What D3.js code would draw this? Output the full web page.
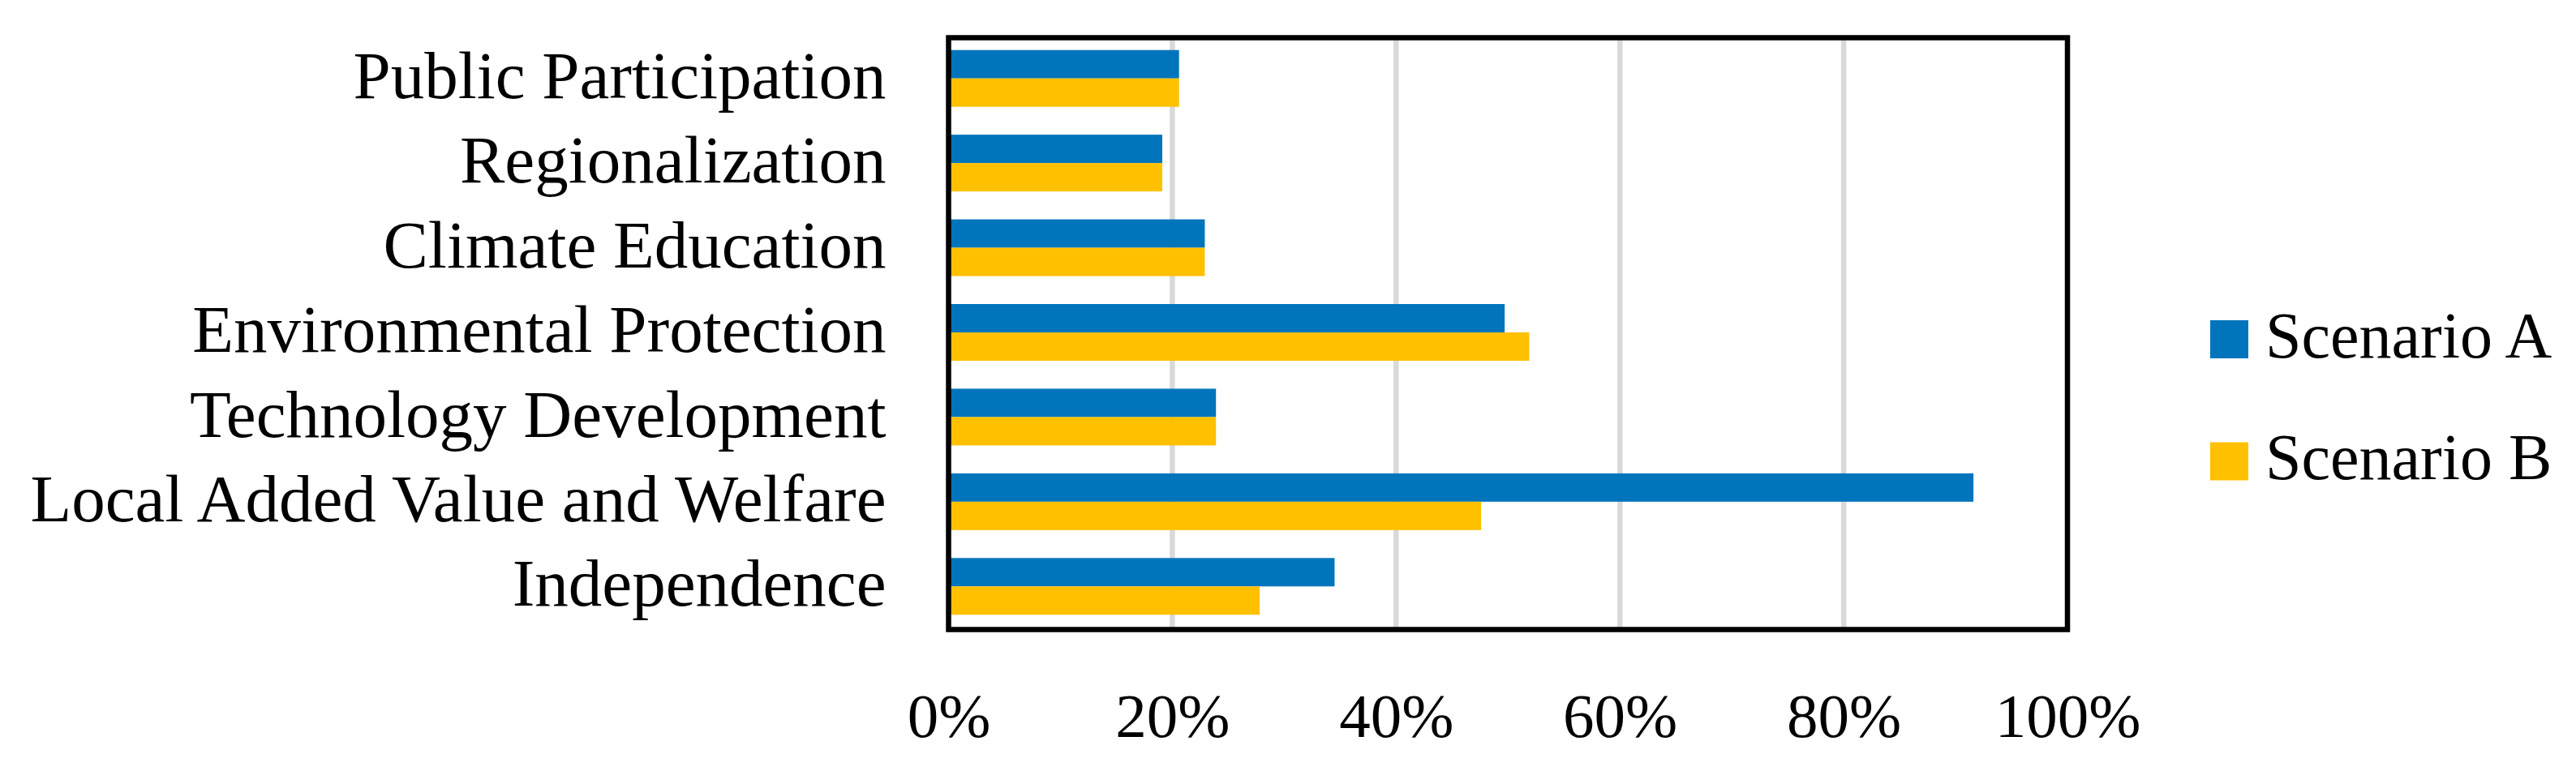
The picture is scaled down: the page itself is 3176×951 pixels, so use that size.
<!DOCTYPE html>
<html>
<head>
<meta charset="utf-8">
<script src="https://cdn.jsdelivr.net/npm/d3@7"></script>
<style>
  html, body { margin: 0; padding: 0; background: #ffffff; }
  svg { display: block; }
  text { font-family: "Liberation Serif", "Times New Roman", serif; fill: #000; }
</style>
</head>
<body>
<svg id="chart" width="3176" height="951"></svg>
<script>
// ---- data ----
const categories = [
  "Public Participation",
  "Regionalization",
  "Climate Education",
  "Environmental Protection",
  "Technology Development",
  "Local Added Value and Welfare",
  "Independence"
];
const seriesNames = ["Scenario A", "Scenario B"];
const scenarioA = [0.206, 0.191, 0.229, 0.497, 0.239, 0.916, 0.345];
const scenarioB = [0.206, 0.191, 0.229, 0.519, 0.239, 0.476, 0.278];
const xTicks = [0, 0.2, 0.4, 0.6, 0.8, 1.0];
const colors = ["#0075BB", "#FFC000"];

// ---- layout ----
const W = 3176, H = 951;
const plot = { left: 1169.5, right: 2549, top: 46.5, bottom: 776.5 };

const svg = d3.select("#chart");

const x = d3.scaleLinear().domain([0, 1]).range([plot.left, plot.right]);
const y = d3.scaleBand().domain(categories)
  .range([plot.top - 2, plot.bottom - 1])
  .paddingInner(0.33).paddingOuter(0.165);
const ySub = d3.scaleBand().domain(seriesNames).range([0, y.bandwidth()]);

const rows = categories.map((c, i) => ({ cat: c, vals: [scenarioA[i], scenarioB[i]] }));

// gridlines
svg.append("g").selectAll("line")
  .data(xTicks.filter(t => t > 0 && t < 1))
  .join("line")
  .attr("x1", d => x(d)).attr("x2", d => x(d))
  .attr("y1", plot.top).attr("y2", plot.bottom)
  .attr("stroke", "#d9d9d9").attr("stroke-width", 6.5);

// bars
const groups = svg.append("g").selectAll("g")
  .data(rows).join("g")
  .attr("transform", d => `translate(0,${y(d.cat)})`);
groups.selectAll("rect")
  .data(d => d.vals.map((v, j) => ({ v, s: seriesNames[j], j })))
  .join("rect")
  .attr("x", x(0))
  .attr("y", d => ySub(d.s))
  .attr("width", d => x(d.v) - x(0))
  .attr("height", ySub.bandwidth())
  .attr("fill", d => colors[d.j]);

// frame
svg.append("rect")
  .attr("x", plot.left).attr("y", plot.top)
  .attr("width", plot.right - plot.left).attr("height", plot.bottom - plot.top)
  .attr("fill", "none").attr("stroke", "#000").attr("stroke-width", 6.5);

// x axis labels
const xAxis = d3.axisBottom(x).tickValues(xTicks).tickFormat(d3.format(".0%")).tickSize(0).tickPadding(0);
const gx = svg.append("g").attr("transform", `translate(0,909)`).call(xAxis);
gx.select(".domain").remove();
gx.selectAll("text")
  .attr("y", 0).attr("dy", 0)
  .style("font-family", '"Liberation Serif", "Times New Roman", serif')
  .style("font-size", "77px").attr("fill", "#000");

// y axis labels
const yAxis = d3.axisLeft(y).tickSize(0).tickPadding(77);
const gy = svg.append("g").attr("transform", `translate(${plot.left},0)`).call(yAxis);
gy.select(".domain").remove();
gy.selectAll("text")
  .attr("dy", "0.29em")
  .style("font-family", '"Liberation Serif", "Times New Roman", serif')
  .style("font-size", "83px").attr("fill", "#000");

// legend
const legend = svg.append("g");
const legendY = [418.5, 569];
seriesNames.forEach((s, i) => {
  legend.append("rect")
    .attr("x", 2725).attr("y", legendY[i] - 23.5)
    .attr("width", 47).attr("height", 47)
    .attr("fill", colors[i]);
  legend.append("text")
    .attr("x", 2793).attr("y", legendY[i] + 22)
    .style("font-size", "80px")
    .text(s);
});
</script>
</body>
</html>
